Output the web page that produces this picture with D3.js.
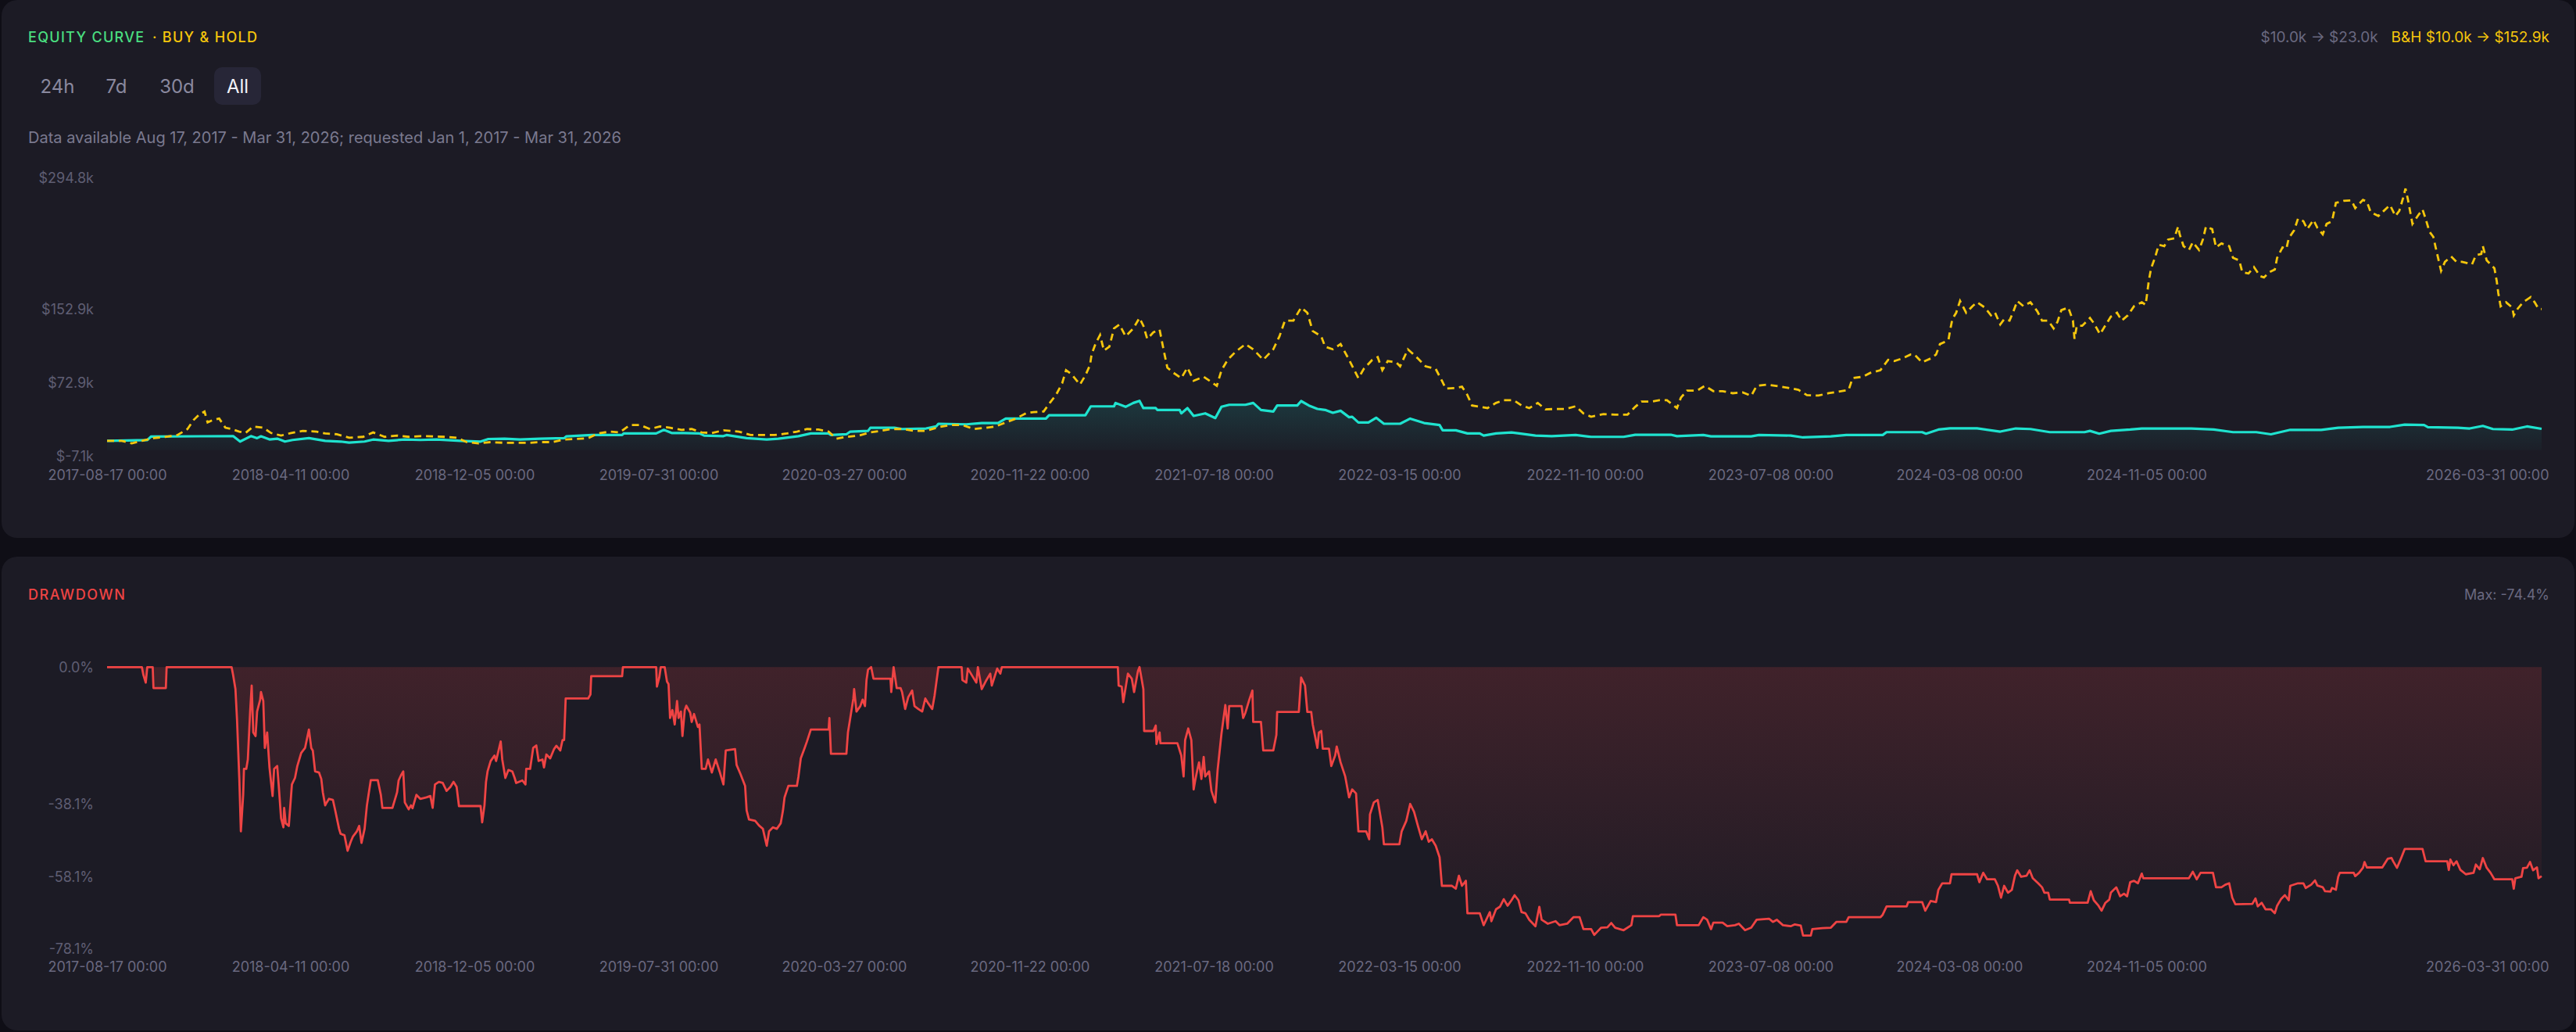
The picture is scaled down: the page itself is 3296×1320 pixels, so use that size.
<!DOCTYPE html>
<html>
<head>
<meta charset="utf-8">
<script src="https://cdn.jsdelivr.net/npm/d3@7"></script>
<style>
  html, body { margin: 0; padding: 0; background: #0f0e16; }
  svg { display: block; font-family: Inter, "Noto Sans", sans-serif; }
</style>
</head>
<body>
<svg id="chart" width="3296" height="1320"></svg>
<script>
// ---- data ----
const START = "2017-08-17";
const END = "2026-03-31";
const rangeButtons = ["24h", "7d", "30d", "All"];
const activeRange = "All";
const xTickDates = ["2017-08-17", "2018-04-11", "2018-12-05", "2019-07-31", "2020-03-27", "2020-11-22",
  "2021-07-18", "2022-03-15", "2022-11-10", "2023-07-08", "2024-03-08", "2024-11-05", "2026-03-31"];
const equityTicks = [-7.1, 72.9, 152.9, 294.8];      // $k
const drawdownTicks = [0, -38.1, -58.1, -78.1];       // %
const maxDrawdown = -74.4;

// [days since START, equity in $k]
const strategyEquity = [[0,10.0],[39,10.6],[52,10.8],[57,14.7],[163,15.1],[172,9.2],[186,15.1],[194,12.9],[199,14.9],
  [210,11.5],[220,12.3],[230,9.2],[240,10.9],[261,12.9],[282,10.0],[302,9.2],[313,8.0],[333,9.2],[344,11.4],[364,10.0],
  [385,11.4],[405,10.9],[426,11.4],[457,10.0],[483,9.2],[493,12.0],[514,12.3],[534,11.4],[560,12.3],[591,12.9],[594,14.9],
  [627,16.3],[666,16.3],[668,18.0],[710,18.0],[720,21.9],[730,18.5],[746,18.5],[766,18.0],[772,15.7],[797,15.1],
  [801,16.3],[827,12.9],[853,11.4],[868,12.3],[894,15.1],[910,18.0],[933,18.0],[936,16.3],[956,17.1],[961,20.0],
  [984,20.8],[987,24.2],[1018,24.2],[1028,22.8],[1059,23.4],[1072,25.6],[1075,28.5],[1111,27.9],[1131,29.3],[1152,29.3],
  [1162,34.1],[1214,34.1],[1218,37.8],[1265,37.8],[1272,47.4],[1302,47.4],[1304,51.1],[1317,46.9],[1327,51.1],[1335,53.4],
  [1340,45.5],[1356,45.5],[1358,43.5],[1387,43.5],[1389,39.8],[1397,45.5],[1405,37.0],[1420,39.8],[1433,34.7],[1441,46.9],
  [1451,49.1],[1472,49.1],[1482,51.1],[1492,43.5],[1508,41.8],[1513,48.3],[1539,48.3],[1544,53.1],[1554,48.3],[1565,44.6],
  [1575,43.5],[1585,40.4],[1595,42.6],[1606,35.6],[1610,36.1],[1618,29.9],[1631,29.9],[1641,35.0],[1651,28.5],[1672,28.5],
  [1685,34.1],[1703,29.3],[1723,27.1],[1727,21.4],[1744,21.4],[1759,18.0],[1775,18.0],[1780,15.7],[1796,18.0],[1816,19.1],
  [1826,18.0],[1847,15.7],[1868,15.1],[1899,16.3],[1919,14.3],[1961,14.3],[1976,16.6],[2022,16.6],[2030,15.1],[2064,16.3],
  [2074,14.9],[2126,14.9],[2136,16.3],[2177,15.7],[2193,13.7],[2229,14.9],[2249,16.3],[2296,16.3],[2301,19.4],[2347,19.4],
  [2352,17.7],[2368,22.2],[2383,23.6],[2418,23.6],[2448,20.0],[2468,23.4],[2487,22.8],[2512,19.4],[2557,19.4],[2564,20.8],
  [2576,17.7],[2591,20.8],[2616,22.2],[2631,23.4],[2695,23.4],[2724,22.2],[2749,19.4],[2779,19.4],[2798,17.1],[2823,21.9],
  [2863,21.9],[2885,24.2],[2917,25.1],[2952,25.1],[2971,27.6],[2996,27.1],[3001,24.8],[3040,24.2],[3055,23.4],[3072,26.2],
  [3085,22.8],[3110,22.2],[3129,25.6],[3148,23.0]];

const buyHoldEquity = [[0,10.0],[19,10.0],[32,7.2],[45,10.0],[60,12.9],[75,14.3],[91,16.3],[104,22.8],[112,32.7],[119,38.4],
  [126,41.8],[130,29.9],[137,32.7],[145,34.1],[153,24.2],[161,22.8],[171,20.0],[179,18.5],[189,25.6],[202,24.2],[212,18.5],
  [225,15.7],[238,18.5],[253,20.8],[271,20.0],[282,18.0],[297,17.1],[313,13.4],[331,14.3],[344,19.1],[359,14.3],[375,15.7],
  [390,14.3],[405,15.1],[421,14.9],[436,14.3],[452,13.4],[465,8.6],[480,7.2],[496,8.6],[514,7.8],[529,7.8],[545,7.8],
  [560,8.6],[576,8.6],[591,11.4],[607,12.0],[622,12.9],[635,18.0],[650,20.0],[663,19.1],[676,27.1],[689,27.1],[702,22.8],
  [715,25.6],[728,24.2],[743,21.9],[756,22.8],[769,19.1],[782,18.5],[797,21.4],[817,20.0],[832,16.3],[848,16.3],[863,16.3],
  [879,18.0],[892,20.0],[905,22.8],[920,22.2],[933,20.0],[943,12.3],[956,14.3],[972,15.7],[987,19.1],[1000,20.8],[1015,22.8],
  [1028,22.8],[1044,20.8],[1059,20.8],[1075,24.8],[1090,27.1],[1106,27.1],[1121,22.8],[1137,24.2],[1149,25.6],[1162,29.9],
  [1175,34.1],[1188,39.8],[1198,41.2],[1211,41.8],[1219,51.1],[1227,59.7],[1235,72.4],[1240,86.6],[1247,82.3],[1258,71.0],
  [1265,80.9],[1271,92.2],[1273,103.6],[1278,114.9],[1284,124.8],[1289,107.8],[1296,112.1],[1302,131.9],[1309,136.2],
  [1317,123.4],[1327,131.9],[1335,143.3],[1340,134.8],[1345,120.6],[1353,127.7],[1361,130.5],[1366,109.3],[1371,89.4],
  [1379,83.7],[1389,78.0],[1397,89.4],[1405,75.2],[1418,79.5],[1428,73.8],[1435,69.6],[1441,86.6],[1449,97.9],[1459,106.4],
  [1472,114.9],[1482,109.3],[1495,97.9],[1508,109.3],[1516,123.4],[1523,140.4],[1534,140.4],[1544,154.6],[1552,148.9],
  [1559,129.1],[1570,123.4],[1575,112.1],[1585,109.3],[1595,114.9],[1606,97.9],[1618,78.0],[1625,88.0],[1636,97.9],
  [1643,100.8],[1649,86.6],[1656,96.5],[1667,95.1],[1672,90.8],[1682,109.3],[1695,99.3],[1705,90.8],[1718,88.0],[1726,75.2],
  [1731,66.7],[1744,67.3],[1752,68.7],[1759,59.6],[1765,48.3],[1775,46.9],[1785,45.5],[1796,51.1],[1806,54.0],[1819,54.0],
  [1829,48.3],[1839,45.5],[1850,51.1],[1860,44.1],[1873,44.6],[1886,44.6],[1899,47.5],[1909,39.8],[1919,36.1],[1935,39.0],
  [1950,38.4],[1966,38.4],[1976,46.9],[1984,52.6],[1997,52.6],[2007,54.0],[2017,54.0],[2030,45.5],[2035,56.8],[2043,64.5],
  [2056,64.5],[2066,69.6],[2077,63.9],[2089,63.9],[2102,61.6],[2115,62.5],[2126,58.8],[2133,69.6],[2146,71.0],[2162,69.0],
  [2175,67.3],[2187,65.3],[2198,59.6],[2213,59.1],[2226,61.6],[2239,63.3],[2252,65.3],[2257,78.0],[2270,79.5],[2280,83.7],
  [2293,86.6],[2303,97.9],[2311,96.5],[2321,99.3],[2332,103.6],[2337,103.6],[2347,95.1],[2358,99.3],[2365,103.6],
  [2370,114.9],[2381,119.2],[2383,129.1],[2386,141.9],[2391,148.9],[2396,161.7],[2404,148.9],[2412,156.0],[2418,160.3],
  [2428,154.6],[2436,146.1],[2441,149.5],[2448,136.2],[2453,141.9],[2460,140.4],[2465,150.4],[2470,161.7],[2478,156.0],
  [2487,160.3],[2496,150.4],[2502,140.4],[2510,140.4],[2517,131.9],[2522,139.1],[2527,151.8],[2536,154.6],[2542,140.4],
  [2544,120.6],[2547,134.8],[2554,134.8],[2564,143.3],[2569,137.6],[2577,125.7],[2584,135.3],[2591,144.7],[2599,148.9],
  [2605,140.4],[2613,146.1],[2621,156.0],[2631,160.3],[2636,157.5],[2638,170.2],[2640,183.0],[2643,197.1],[2648,208.5],
  [2653,222.7],[2660,221.2],[2665,228.3],[2673,229.7],[2678,242.5],[2680,234.0],[2685,221.2],[2692,217.0],[2697,225.5],
  [2705,217.0],[2710,228.3],[2714,242.5],[2722,239.6],[2727,219.8],[2734,224.1],[2744,221.2],[2749,208.5],[2757,205.7],
  [2761,192.9],[2769,191.5],[2776,198.5],[2784,188.6],[2789,187.2],[2796,192.9],[2803,195.7],[2806,208.5],[2813,219.8],
  [2818,218.4],[2821,229.7],[2828,238.3],[2833,251.0],[2840,248.2],[2845,239.7],[2853,249.6],[2858,241.1],[2865,234.0],
  [2870,245.3],[2877,248.2],[2882,268.1],[2892,270.3],[2902,270.9],[2907,262.4],[2917,271.4],[2922,269.4],[2927,258.1],
  [2937,253.8],[2944,259.5],[2952,265.7],[2959,253.8],[2964,259.5],[2969,273.7],[2972,283.6],[2975,272.3],[2981,245.3],
  [2989,255.3],[2994,260.9],[2998,251.0],[3003,236.8],[3008,231.2],[3011,219.8],[3018,194.3],[3023,204.2],[3031,209.9],
  [3038,204.2],[3045,204.2],[3058,201.4],[3063,211.3],[3070,212.7],[3072,221.2],[3077,205.7],[3087,197.1],[3090,183.0],
  [3092,170.2],[3095,156.0],[3102,160.3],[3110,154.6],[3112,146.1],[3117,153.2],[3124,160.3],[3134,166.0],[3139,160.3],
  [3144,153.2],[3148,152.9]];

// [days since START, drawdown %]
const drawdown = [[0,0],[45,0],[47,-2.2],[50,-4.3],[52,0],[59,0],[60,-5.8],[76,-5.8],[77,0],[161,0],[163,-2.2],[166,-6.1],
  [168,-14.4],[171,-31.0],[173,-45.5],[176,-35.4],[177,-28.2],[180,-28.2],[182,-25.6],[185,-12.3],[187,-5.1],[189,-18.1],
  [192,-19.1],[194,-12.3],[198,-9.0],[199,-6.9],[202,-9.4],[204,-22.4],[207,-18.1],[210,-27.8],[212,-31.8],[214,-35.7],
  [216,-28.2],[220,-27.4],[222,-32.9],[225,-41.9],[228,-44.4],[229,-39.0],[231,-43.3],[235,-44.0],[238,-35.4],[239,-32.5],
  [243,-30.7],[246,-27.4],[251,-23.8],[256,-22.4],[261,-17.3],[264,-22.4],[266,-23.1],[269,-28.9],[274,-29.2],[277,-31.0],
  [279,-34.7],[282,-38.3],[284,-37.5],[287,-36.5],[292,-36.8],[295,-39.7],[300,-44.8],[302,-46.2],[307,-46.6],[311,-50.9],
  [315,-48.4],[318,-46.9],[323,-45.5],[326,-44.0],[329,-48.7],[333,-44.8],[336,-38.3],[341,-31.3],[350,-31.3],[354,-35.4],
  [356,-39.0],[369,-39.0],[375,-34.7],[377,-31.4],[380,-30.0],[383,-28.9],[385,-37.5],[390,-39.4],[393,-38.3],[395,-39.1],
  [400,-35.4],[405,-36.5],[413,-36.1],[418,-35.7],[421,-39.0],[424,-32.5],[429,-31.8],[434,-32.1],[439,-34.3],[444,-33.2],
  [448,-31.8],[452,-33.2],[455,-38.5],[483,-38.5],[485,-43.0],[488,-38.3],[490,-31.8],[492,-28.9],[496,-26.0],[501,-24.5],
  [503,-26.0],[509,-20.6],[511,-25.6],[515,-30.7],[519,-28.5],[524,-28.9],[527,-30.7],[529,-32.1],[537,-31.4],[541,-32.5],
  [542,-28.2],[547,-28.2],[551,-22.4],[555,-21.7],[558,-26.0],[563,-25.6],[565,-27.8],[568,-24.2],[573,-25.3],[578,-22.7],
  [581,-21.8],[586,-23.1],[589,-20.2],[591,-20.2],[593,-8.7],[622,-8.7],[625,-7.6],[626,-2.5],[666,-2.5],[667,0],[710,0],
  [711,-5.4],[714,-2.9],[716,0],[721,0],[724,-4.0],[726,-4.7],[728,-14.1],[731,-11.9],[734,-15.9],[737,-9.4],[739,-14.1],
  [742,-12.3],[744,-19.1],[747,-11.9],[749,-10.7],[754,-12.6],[756,-15.2],[759,-13.0],[764,-16.6],[766,-15.9],[769,-28.2],
  [774,-28.2],[777,-25.6],[782,-29.2],[787,-25.6],[792,-28.9],[797,-32.5],[800,-23.1],[812,-22.7],[814,-27.1],[819,-29.6],
  [825,-32.9],[827,-39.7],[830,-42.2],[838,-42.6],[843,-43.9],[848,-44.8],[853,-49.5],[856,-45.5],[861,-44.4],[866,-44.8],
  [871,-43.3],[874,-39.7],[876,-36.1],[881,-32.9],[892,-32.9],[894,-30.3],[897,-25.3],[902,-22.4],[905,-20.6],[910,-17.3],
  [933,-17.3],[934,-14.1],[936,-24.0],[956,-24.0],[958,-18.1],[961,-14.1],[965,-8.7],[966,-6.1],[969,-12.3],[974,-10.8],
  [977,-9.0],[980,-10.8],[982,-3.6],[984,-0.7],[988,0],[991,-3.2],[1013,-3.2],[1014,-6.9],[1017,0],[1021,-5.8],[1026,-5.8],
  [1028,-6.9],[1032,-11.6],[1036,-8.3],[1041,-6.5],[1044,-10.8],[1049,-11.6],[1054,-12.3],[1058,-8.7],[1062,-10.1],
  [1067,-11.6],[1070,-7.9],[1075,0],[1105,0],[1106,-3.6],[1111,-4.3],[1113,-0.4],[1124,-4.3],[1126,0],[1131,-6.1],
  [1137,-3.6],[1142,-1.8],[1144,-5.1],[1151,-0.4],[1155,-1.8],[1157,0],[1307,0],[1308,-5.1],[1312,-5.4],[1314,-9.7],
  [1320,-1.8],[1325,-3.2],[1328,-6.9],[1333,-1.1],[1335,0],[1338,-3.6],[1340,-6.1],[1341,-17.7],[1353,-17.7],[1356,-16.2],
  [1357,-21.3],[1361,-18.1],[1362,-21.1],[1384,-21.1],[1389,-24.5],[1392,-30.3],[1394,-20.2],[1398,-17.0],[1402,-20.2],
  [1405,-33.9],[1407,-31.4],[1410,-28.2],[1412,-26.4],[1415,-31.0],[1418,-24.9],[1420,-30.3],[1425,-28.9],[1428,-34.3],
  [1433,-37.5],[1436,-28.5],[1441,-18.4],[1446,-10.5],[1449,-17.0],[1451,-10.8],[1467,-10.8],[1469,-14.1],[1472,-12.6],
  [1477,-9.0],[1481,-6.5],[1482,-15.2],[1492,-15.2],[1495,-23.1],[1508,-23.1],[1512,-18.8],[1513,-12.4],[1541,-12.4],
  [1544,-2.9],[1549,-5.1],[1552,-12.4],[1557,-12.4],[1559,-15.9],[1565,-22.4],[1567,-18.1],[1570,-17.7],[1572,-22.6],
  [1580,-22.6],[1583,-27.4],[1588,-24.5],[1590,-22.0],[1595,-26.4],[1601,-30.3],[1606,-36.1],[1610,-33.9],[1615,-35.0],
  [1618,-45.5],[1628,-45.5],[1632,-47.7],[1633,-40.8],[1638,-37.5],[1643,-36.8],[1649,-44.4],[1651,-49.1],[1671,-49.1],
  [1674,-45.5],[1680,-42.6],[1685,-37.9],[1690,-40.1],[1695,-44.0],[1700,-47.7],[1705,-45.5],[1709,-48.4],[1713,-47.7],
  [1718,-49.5],[1723,-52.7],[1726,-60.6],[1739,-60.6],[1744,-61.4],[1748,-57.8],[1752,-60.6],[1757,-59.2],[1759,-68.2],
  [1775,-68.2],[1780,-71.5],[1788,-67.9],[1790,-70.4],[1796,-67.1],[1801,-66.4],[1806,-64.3],[1811,-66.1],[1816,-64.6],
  [1820,-63.2],[1825,-64.6],[1829,-67.9],[1834,-68.2],[1839,-70.0],[1847,-71.8],[1852,-66.4],[1855,-70.0],[1863,-71.1],
  [1873,-70.4],[1878,-71.5],[1888,-71.1],[1896,-69.3],[1904,-69.3],[1909,-72.6],[1919,-72.6],[1923,-74.2],[1927,-73.3],
  [1932,-72.2],[1940,-72.1],[1945,-70.9],[1950,-72.2],[1961,-72.9],[1971,-71.5],[1973,-69.0],[2007,-69.0],[2009,-68.6],
  [2028,-68.6],[2030,-71.5],[2058,-71.5],[2064,-69.3],[2069,-70.0],[2074,-72.6],[2077,-70.8],[2089,-70.8],[2095,-71.8],
  [2105,-71.5],[2110,-71.1],[2118,-72.9],[2126,-72.2],[2133,-70.0],[2149,-69.7],[2154,-70.6],[2159,-70.0],[2167,-71.5],
  [2177,-71.8],[2182,-71.3],[2190,-71.6],[2193,-74.4],[2203,-74.4],[2205,-72.6],[2218,-72.3],[2229,-72.2],[2236,-70.6],
  [2249,-70.6],[2252,-69.3],[2293,-69.3],[2296,-68.6],[2301,-66.3],[2327,-66.3],[2329,-65.1],[2347,-65.1],[2351,-67.5],
  [2358,-64.8],[2365,-65.1],[2368,-61.7],[2373,-59.9],[2383,-59.9],[2385,-57.4],[2418,-57.4],[2421,-59.6],[2426,-57.0],
  [2431,-58.8],[2441,-58.8],[2445,-60.6],[2449,-63.9],[2453,-60.6],[2458,-62.5],[2463,-61.7],[2467,-57.8],[2470,-56.3],
  [2475,-58.1],[2482,-57.8],[2486,-56.3],[2490,-58.5],[2497,-59.9],[2502,-61.0],[2505,-62.5],[2510,-62.5],[2512,-64.4],
  [2537,-64.4],[2538,-65.3],[2561,-65.3],[2565,-62.1],[2569,-64.6],[2575,-66.1],[2579,-67.5],[2584,-65.3],[2589,-64.4],
  [2591,-62.5],[2598,-61.0],[2603,-63.5],[2608,-62.8],[2612,-63.5],[2616,-59.6],[2621,-59.2],[2626,-59.9],[2631,-57.2],
  [2633,-58.5],[2692,-58.5],[2697,-56.7],[2702,-58.8],[2707,-57.0],[2723,-57.0],[2727,-61.0],[2734,-61.0],[2739,-60.3],
  [2744,-59.9],[2748,-63.9],[2752,-65.7],[2774,-65.6],[2778,-64.1],[2781,-66.3],[2786,-65.3],[2791,-67.1],[2798,-67.1],
  [2803,-68.2],[2806,-66.1],[2811,-64.3],[2816,-63.2],[2821,-64.6],[2823,-60.6],[2833,-59.9],[2840,-59.9],[2843,-61.2],
  [2850,-60.3],[2855,-59.1],[2858,-60.5],[2865,-61.0],[2868,-62.1],[2875,-62.2],[2877,-61.2],[2882,-61.7],[2885,-58.1],
  [2887,-57.0],[2905,-57.0],[2907,-57.9],[2912,-57.0],[2917,-55.6],[2919,-54.0],[2922,-55.5],[2942,-55.5],[2949,-53.1],
  [2954,-52.9],[2956,-53.8],[2961,-55.6],[2966,-53.1],[2971,-50.4],[2994,-50.4],[2998,-53.8],[3026,-53.8],[3028,-56.2],
  [3030,-53.3],[3034,-54.9],[3038,-53.8],[3043,-56.2],[3050,-57.4],[3060,-57.0],[3063,-54.7],[3068,-56.0],[3072,-52.9],
  [3077,-55.6],[3082,-57.0],[3087,-58.8],[3110,-58.8],[3112,-61.4],[3114,-58.5],[3122,-58.1],[3124,-55.7],[3129,-55.6],
  [3133,-54.0],[3137,-56.3],[3142,-55.5],[3144,-58.5],[3148,-57.9]];

// ---- drawing ----
const parseDay = d3.timeParse("%Y-%m-%d");
const t0 = parseDay(START);
const toDate = d => d3.timeDay.offset(t0, d);

const svg = d3.select("#chart");
const C = {
  panel: "#1c1b25", text: "#7a798f", tick: "#5f5e73", xtick: "#6a6980",
  green: "#4ade80", yellow: "#f5c60c", teal: "#1fe3cf", red: "#ef4444"
};

// panels
svg.append("rect").attr("x", 2).attr("y", 0).attr("width", 3292).attr("height", 688).attr("rx", 20).attr("fill", C.panel);
svg.append("rect").attr("x", 2).attr("y", 712).attr("width", 3292).attr("height", 606).attr("rx", 20).attr("fill", C.panel);

const x = d3.scaleTime().domain([t0, parseDay(END)]).range([137, 3252]);
const yE = d3.scaleLinear().domain([equityTicks[0], equityTicks[equityTicks.length - 1]]).range([584, 228]);
const yD = d3.scaleLinear().domain([drawdownTicks[drawdownTicks.length - 1], 0]).range([1213.8, 853.3]);

const defs = svg.append("defs");
const eqGrad = defs.append("linearGradient").attr("id", "eqFill")
  .attr("gradientUnits", "userSpaceOnUse").attr("x1", 0).attr("x2", 0).attr("y1", yE(55)).attr("y2", yE(0));
eqGrad.append("stop").attr("offset", 0).attr("stop-color", C.teal).attr("stop-opacity", 0.15);
eqGrad.append("stop").attr("offset", 1).attr("stop-color", C.teal).attr("stop-opacity", 0.02);
const ddGrad = defs.append("linearGradient").attr("id", "ddFill")
  .attr("gradientUnits", "userSpaceOnUse").attr("x1", 0).attr("x2", 0).attr("y1", yD(0)).attr("y2", yD(-78.1));
ddGrad.append("stop").attr("offset", 0).attr("stop-color", C.red).attr("stop-opacity", 0.17);
ddGrad.append("stop").attr("offset", 1).attr("stop-color", C.red).attr("stop-opacity", 0.01);

// headers
const head = svg.append("g").style("dominant-baseline", "central");
head.append("text").attr("x", 36).attr("y", 47.5).attr("fill", C.green)
  .style("font-size", "18px").style("font-weight", 500).style("letter-spacing", "1.3px").text("EQUITY CURVE");
head.append("text").attr("x", 195).attr("y", 47.5).attr("fill", C.yellow)
  .style("font-size", "18px").style("font-weight", 500).style("letter-spacing", "1.3px").text("· BUY & HOLD");

const fmtK = v => "$" + v.toFixed(1) + "k";
const bh0 = buyHoldEquity[0][1], bh1 = buyHoldEquity[buyHoldEquity.length - 1][1];
const st0 = strategyEquity[0][1], st1 = strategyEquity[strategyEquity.length - 1][1];
const bhText = head.append("text").attr("x", 3262).attr("y", 47.5).attr("text-anchor", "end").attr("fill", C.yellow)
  .style("font-size", "19px").text(`B&H ${fmtK(bh0)} → ${fmtK(bh1)}`);
const bhW = bhText.node().getComputedTextLength();
head.append("text").attr("x", 3262 - bhW - 17).attr("y", 47.5).attr("text-anchor", "end").attr("fill", C.xtick)
  .style("font-size", "19px").text(`${fmtK(st0)} → ${fmtK(st1)}`);

// range buttons
const btnCenters = [73.5, 149, 226.5, 304];
rangeButtons.forEach((b, i) => {
  if (b === activeRange) {
    head.append("rect").attr("x", btnCenters[i] - 30).attr("y", 86).attr("width", 60).attr("height", 48)
      .attr("rx", 10).attr("fill", "#272637");
  }
  head.append("text").attr("x", btnCenters[i]).attr("y", 110).attr("text-anchor", "middle")
    .attr("fill", b === activeRange ? "#f2f2f7" : "#8a899f").style("font-size", "24px").text(b);
});

head.append("text").attr("x", 36).attr("y", 176).attr("fill", C.text).style("font-size", "20px")
  .text("Data available Aug 17, 2017 - Mar 31, 2026; requested Jan 1, 2017 - Mar 31, 2026");

head.append("text").attr("x", 36).attr("y", 760).attr("fill", C.red)
  .style("font-size", "18px").style("font-weight", 500).style("letter-spacing", "1.6px").text("DRAWDOWN");
head.append("text").attr("x", 3262).attr("y", 760).attr("text-anchor", "end").attr("fill", C.xtick)
  .style("font-size", "18px").text(`Max: ${maxDrawdown.toFixed(1)}%`);

// axes
function styleAxis(g, color) {
  g.select(".domain").remove();
  g.selectAll(".tick line").remove();
  g.selectAll("text").attr("fill", color).style("font-size", "18px").style("font-family", "Inter, sans-serif");
}
function xAxis(yPos) {
  const g = svg.append("g").attr("transform", `translate(0,${yPos})`)
    .call(d3.axisBottom(x).tickValues(xTickDates.map(parseDay))
      .tickFormat(d => d3.timeFormat("%Y-%m-%d %H:%M")(d)).tickSize(0).tickPadding(0));
  styleAxis(g, C.xtick);
  g.selectAll(".tick").filter((d, i) => i === xTickDates.length - 1)
    .select("text").attr("text-anchor", "end").attr("dx", 9);
}
xAxis(601);
xAxis(1230);

const gyE = svg.append("g").attr("transform", "translate(120,0)")
  .call(d3.axisLeft(yE).tickValues(equityTicks).tickFormat(v => "$" + v.toFixed(1) + "k").tickSize(0).tickPadding(0));
styleAxis(gyE, C.tick);
const gyD = svg.append("g").attr("transform", "translate(120,0)")
  .call(d3.axisLeft(yD).tickValues(drawdownTicks).tickFormat(v => v.toFixed(1) + "%").tickSize(0).tickPadding(0));
styleAxis(gyD, C.tick);

// equity chart
const px = d => x(toDate(d[0]));
svg.append("path").datum(strategyEquity).attr("fill", "url(#eqFill)")
  .attr("d", d3.area().x(px).y0(yE(0)).y1(d => yE(d[1])));
svg.append("path").datum(strategyEquity).attr("fill", "none").attr("stroke", C.teal)
  .attr("stroke-width", 3.2).attr("stroke-linejoin", "round")
  .attr("d", d3.line().x(px).y(d => yE(d[1])));
svg.append("path").datum(buyHoldEquity).attr("fill", "none").attr("stroke", C.yellow)
  .attr("stroke-width", 2.8).attr("stroke-dasharray", "9,6")
  .attr("d", d3.line().x(px).y(d => yE(d[1])));

// drawdown chart
svg.append("path").datum(drawdown).attr("fill", "url(#ddFill)")
  .attr("d", d3.area().x(px).y0(yD(0)).y1(d => yD(d[1])));
svg.append("path").datum(drawdown).attr("fill", "none").attr("stroke", C.red)
  .attr("stroke-width", 2.8).attr("stroke-linejoin", "round")
  .attr("d", d3.line().x(px).y(d => yD(d[1])));
</script>
</body>
</html>
